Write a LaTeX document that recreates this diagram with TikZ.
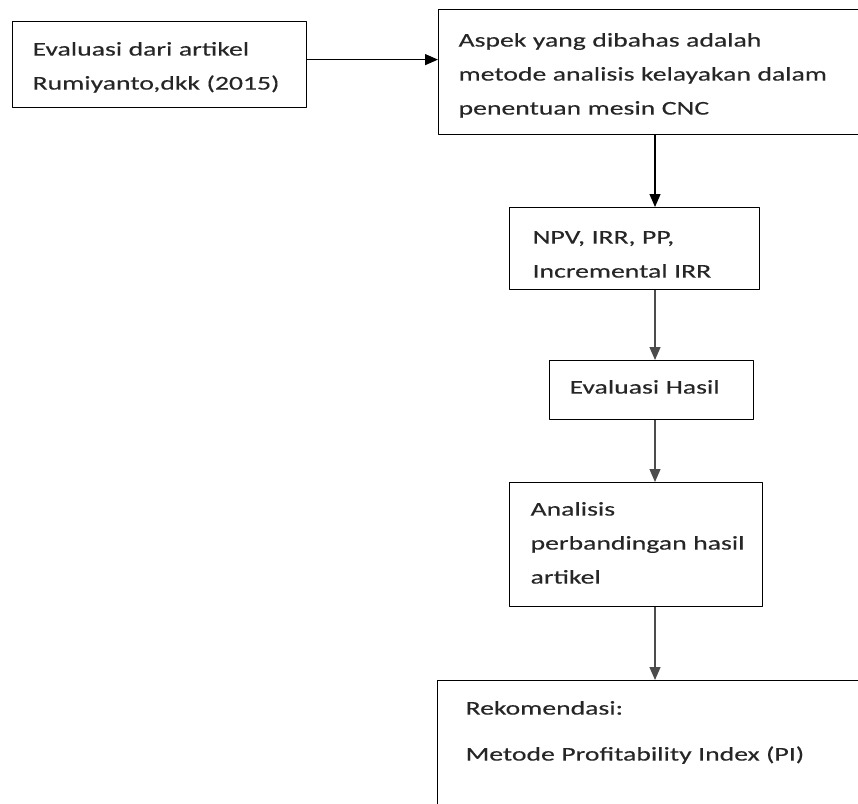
\documentclass[tikz,border=0pt]{standalone}
\usepackage{fontspec}
\setmainfont{Carlito}[FakeStretch=1.42,FakeBold=0.3]
\usetikzlibrary{arrows.meta}
\begin{document}
\begin{tikzpicture}[x=1pt,y=-1pt,>={Triangle[length=13pt,width=11pt]}, font=\fontsize{19.5}{34}\selectfont, line join=round,
    box/.style={draw, line width=1.2pt, anchor=north west, align=left, inner ysep=0pt, text=black!85},
    link/.style={->, line width=1.2pt}]
            \useasboundingbox (0,0) rectangle (858,803);
            \clip (0,0) rectangle (858,803);
            \node[box, minimum width=294, inner xsep=20, text width=254, text height=34, text depth=52] (artikel) at (12,21) {Evaluasi dari artikel\\Rumiyanto,dkk (2015)};
            \node[box, minimum width=460, inner xsep=20, text width=420, text height=37, text depth=88] (aspek) at (438,9) {Aspek yang dibahas adalah\\metode analisis kelayakan dalam\\penentuan mesin CNC};
            \node[box, minimum width=250, inner xsep=23, text width=204, text height=36, text depth=46] (metode) at (509,207) {NPV, IRR, PP,\\Incremental IRR};
            \node[box, minimum width=204, inner xsep=20, text width=164, text height=33, text depth=26] (hasil) at (549,360) {Evaluasi Hasil};
            \node[box, minimum width=253, inner xsep=21, text width=211, text height=33, text depth=91] (banding) at (509,482) {Analisis\\perbandingan~hasil\\artikel};
            \node[box, minimum width=460, inner xsep=28, text width=404, text height=34, text depth=136] (rekom) at (437,680) {Rekomendasi:\\[12pt]Metode Profitability Index (PI)};
            \coordinate (spine) at (655,0);
            \draw[link] ([yshift=5pt]artikel.east) -- ([yshift=5pt]artikel.east -| aspek.west);
            \draw[link] (aspek.south -| spine) -- (metode.north -| spine);
            \draw[link, black!70] (metode.south -| spine) -- (hasil.north -| spine);
            \draw[link, black!70] (hasil.south -| spine) -- (banding.north -| spine);
            \draw[link, black!70] (banding.south -| spine) -- (rekom.north -| spine);
        \end{tikzpicture}
\end{document}
